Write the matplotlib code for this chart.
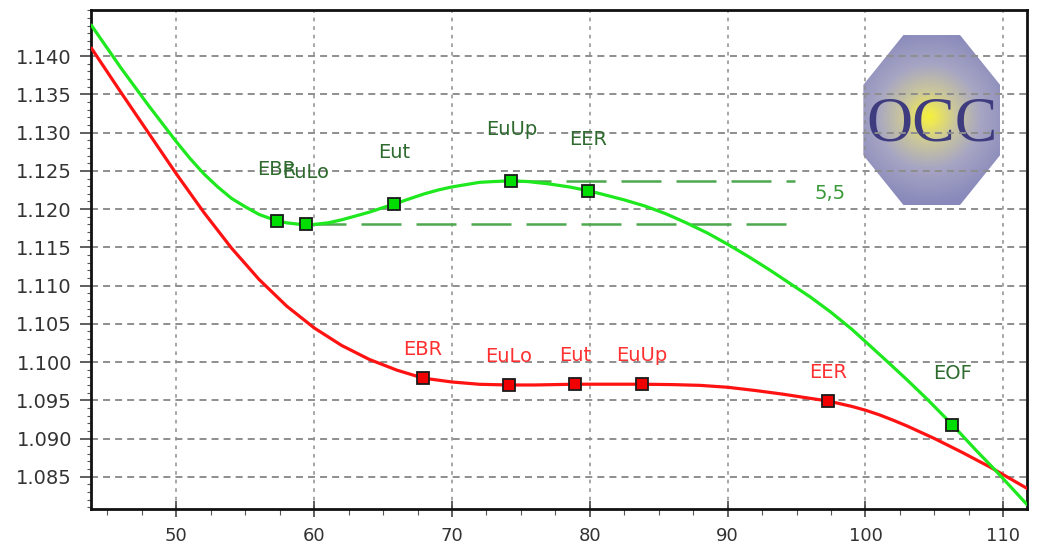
import matplotlib
matplotlib.use("Agg")
import matplotlib.pyplot as plt
import numpy as np
from matplotlib.patches import Polygon
from matplotlib.colors import LinearSegmentedColormap
from matplotlib.ticker import FixedLocator, MultipleLocator

plt.rcParams['font.family'] = ['DejaVu Sans']

# ---------------- data ----------------
red_x = [43.85, 44, 46, 48, 50, 52, 54, 56, 58, 60, 62, 64, 66, 67.9, 70, 72, 74.1,
         76, 78.9, 80, 82, 83.8, 86, 88, 90, 92, 94, 96, 97.3, 99, 100, 101, 102,
         103, 105, 107, 109, 111.7]
red_y = [1.1410, 1.1406, 1.1352, 1.1299, 1.1246, 1.11955, 1.1149, 1.1108, 1.10732,
         1.10446, 1.10216, 1.10034, 1.09894, 1.0979, 1.09739, 1.09709, 1.0970,
         1.0970, 1.0971, 1.0971, 1.0971, 1.0971, 1.09705, 1.09695, 1.0967, 1.09628,
         1.0958, 1.09525, 1.0949, 1.0942, 1.0937, 1.0931, 1.0924, 1.09165, 1.0900,
         1.0882, 1.0863, 1.0835]

green_x = [43.85, 44, 46, 48, 50, 51, 52, 53, 54, 55, 56, 57, 57.3, 58, 59, 59.4, 60,
           61, 62, 63, 64, 65, 65.8, 67, 68, 69, 70, 71, 72, 73, 74.3, 75.5, 77,
           78.5, 79.9, 81, 82.5, 84, 85.5, 87, 88.5, 90, 91.5, 93, 94.5, 96, 97.5,
           99, 100.1, 101.5, 103, 104.5, 106.3, 108, 109.5, 111.7]
green_y = [1.1440, 1.1436, 1.1384, 1.1335, 1.1288, 1.1266, 1.1246, 1.1229, 1.1214,
           1.1203, 1.1193, 1.11865, 1.1185, 1.1182, 1.1180, 1.1180, 1.1180, 1.1182,
           1.1186, 1.1191, 1.1196, 1.1202, 1.12065, 1.1214, 1.1220, 1.1225, 1.1229,
           1.1232, 1.1235, 1.1236, 1.1237, 1.1236, 1.1233, 1.1229, 1.1224, 1.1219,
           1.1212, 1.1204, 1.1194, 1.1182, 1.1169, 1.1154, 1.1138, 1.1121, 1.1103,
           1.1085, 1.1065, 1.1043, 1.1025, 1.1002, 1.0977, 1.0951, 1.0918, 1.0885,
           1.0857, 1.0814]

red_labels = ["EBR", "EuLo", "Eut", "EuUp", "EER"]
red_mx = [67.9, 74.1, 78.9, 83.8, 97.3]
red_my = [1.0979, 1.0970, 1.0971, 1.0971, 1.0949]

green_labels = ["EBR", "EuLo", "Eut", "EuUp", "EER", "EOF"]
green_mx = [57.3, 59.4, 65.8, 74.3, 79.9, 106.3]
green_my = [1.1185, 1.1180, 1.12065, 1.1237, 1.1224, 1.0918]

# band lines (lower = EuLo level, upper = EuUp level)
band_label = "5,5"
band_lower_x = [59.4, 94.2]
band_upper_x = [74.3, 94.9]
band_label_xy = (97.4, 1.1221)

x_ticks = [50, 60, 70, 80, 90, 100, 110]
y_ticks = [1.085, 1.090, 1.095, 1.100, 1.105, 1.110, 1.115, 1.120, 1.125,
           1.130, 1.135, 1.140]
y_ticklabels = ["1.085", "1.090", "1.095", "1.100", "1.105", "1.110", "1.115",
                "1.120", "1.125", "1.130", "1.135", "1.140"]
x_range = (43.83, 111.70)
y_range = (1.08078, 1.1461)

logo_text = "OCC"

# ---------------- figure ----------------
fig = plt.figure(figsize=(10.56, 5.56), dpi=100)
fig.patch.set_facecolor('white')
ax = fig.add_axes([0.0865, 0.0845, 0.8858, 0.8984])
ax.set_facecolor('white')
ax.set_xlim(*x_range)
ax.set_ylim(*y_range)

# grid / ticks
ax.xaxis.set_major_locator(FixedLocator(x_ticks))
ax.xaxis.set_minor_locator(MultipleLocator(2.5))
ax.yaxis.set_major_locator(FixedLocator(y_ticks))
ax.yaxis.set_minor_locator(MultipleLocator(0.001))
ax.set_yticklabels(y_ticklabels)
ax.yaxis.grid(True, color='#8e8e8e', linewidth=1.4, linestyle=(0, (3.6, 2.6)))
ax.xaxis.grid(True, color='#8e8e8e', linewidth=1.1, linestyle=(0, (2.4, 3.2)))

ax.tick_params(axis='y', which='major', direction='out', length=8, width=1.2,
               pad=6, labelsize=14, labelcolor='#333333', color='#444444')
ax.tick_params(axis='y', which='minor', direction='out', length=3, width=0.8,
               color='#555555')
ax.tick_params(axis='x', which='major', direction='inout', length=12, width=1.2,
               pad=7, labelsize=13, labelcolor='#333333', color='#444444')
ax.tick_params(axis='x', which='minor', direction='out', length=4, width=0.8,
               color='#555555')

for s in ax.spines.values():
    s.set_linewidth(2.0)
    s.set_color('#111111')

# logo (inset, below grid)
lax = ax.inset_axes([0.8253, 0.6086, 0.1462, 0.3403], zorder=1)
lax.set_xlim(0, 1)
lax.set_ylim(0, 1)
lax.axis('off')
yy, xx = np.mgrid[0:1:240j, 0:1:240j]
r = np.sqrt(((xx - 0.48) * 137) ** 2 + ((yy - 0.52) * 170) ** 2) / 88.0
cmap = LinearSegmentedColormap.from_list(
    'logo', [(0.0, '#f4f03a'), (0.08, '#eee855'), (0.3, '#cac69c'),
             (0.6, '#a6a5c4'), (1.0, '#8989bb')])
img = cmap(np.clip(r, 0, 1))
im = lax.imshow(img, extent=(0, 1, 0, 1), origin='lower', aspect='auto',
                interpolation='bilinear', zorder=0)
c = 0.293
verts = [(c, 1), (1 - c, 1), (1, 1 - c), (1, c), (1 - c, 0), (c, 0), (0, c), (0, 1 - c)]
oct_patch = Polygon(verts, closed=True, facecolor='none', edgecolor='none',
                    transform=lax.transData)
lax.add_patch(oct_patch)
im.set_clip_path(oct_patch)
lax.text(0.5, 0.47, logo_text, ha='center', va='center', fontsize=46,
         family='Liberation Serif', color='#3e3c7e', zorder=3)

# curves
ax.plot(red_x, red_y, color='#ff1212', lw=2.3, zorder=3)
ax.plot(green_x, green_y, color='#1ee81e', lw=2.3, zorder=4)

# band lines
ax.plot(band_lower_x, [green_my[1]] * 2, color='#4ea84e', lw=1.8,
        linestyle=(0, (16, 6)), zorder=3.5)
ax.plot(band_upper_x, [green_my[3]] * 2, color='#4ea84e', lw=1.8,
        linestyle=(0, (16, 6)), zorder=3.5)
ax.text(band_label_xy[0], band_label_xy[1], band_label, ha='center', va='center',
        fontsize=14, color='#3a9a3a', zorder=7)

# markers
ax.plot(red_mx, red_my, ls='none', marker='s', ms=8.5, mfc='#f00000',
        mec='#1a1a1a', mew=1.3, zorder=6)
ax.plot(green_mx, green_my, ls='none', marker='s', ms=8.5, mfc='#00dd00',
        mec='#1a1a1a', mew=1.3, zorder=6)

for lab, x, y in zip(green_labels, green_mx, green_my):
    ax.annotate(lab, (x, y), xytext=(0, 46), textcoords='offset pixels',
                ha='center', va='baseline', fontsize=14, color='#2f6a2f', zorder=7)
for lab, x, y in zip(red_labels, red_mx, red_my):
    ax.annotate(lab, (x, y), xytext=(0, 23), textcoords='offset pixels',
                ha='center', va='baseline', fontsize=14, color='#ff3030', zorder=7)

fig.savefig('out.png', dpi=100, facecolor='white')
